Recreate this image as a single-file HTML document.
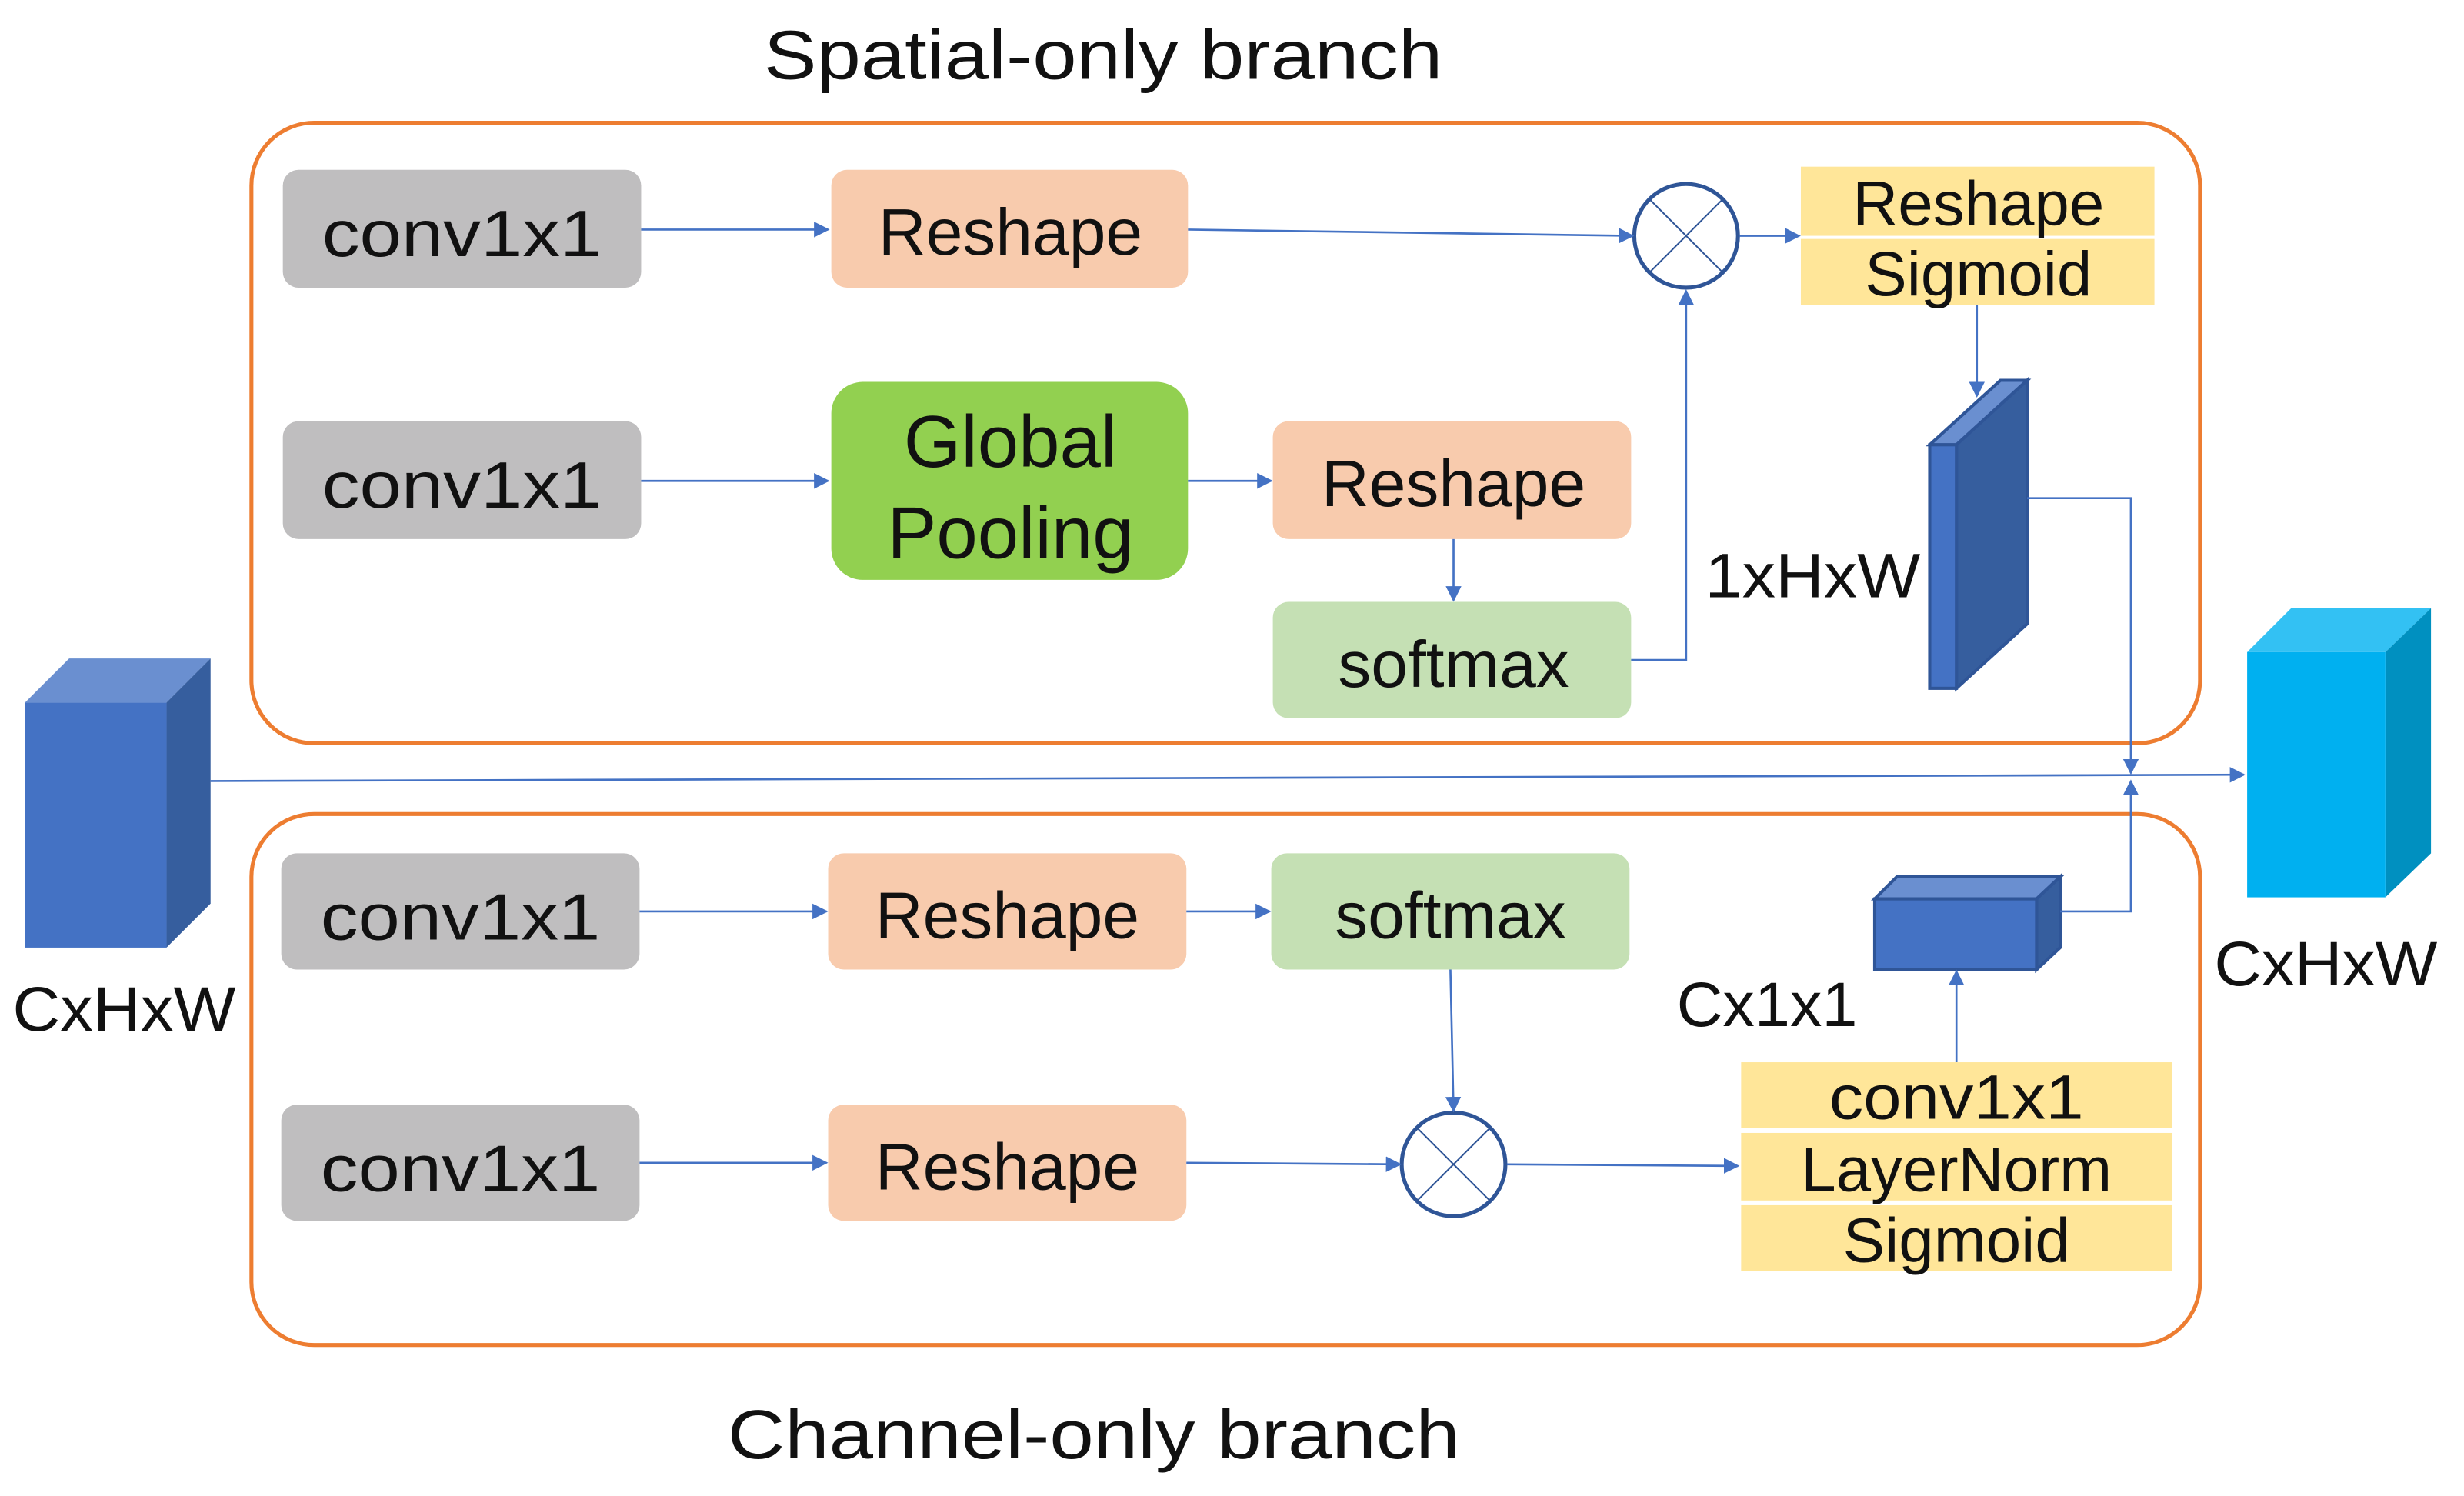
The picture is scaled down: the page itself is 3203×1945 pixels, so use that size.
<!DOCTYPE html>
<html><head><meta charset="utf-8"><style>html,body{margin:0;padding:0;background:#fff}svg{display:block}</style></head>
<body>
<svg width="3203" height="1945" viewBox="0 0 1568 952" xmlns="http://www.w3.org/2000/svg" font-family="Liberation Sans, sans-serif">
<defs><marker id="a" markerWidth="10" markerHeight="10" refX="9" refY="5" orient="auto" markerUnits="userSpaceOnUse"><path d="M0,0L10,5L0,10z" fill="#4472C4"/></marker></defs>
<text x="486" y="50" font-size="44" textLength="432" lengthAdjust="spacingAndGlyphs" fill="#111">Spatial-only branch</text>
<text x="463" y="928" font-size="44" textLength="466" lengthAdjust="spacingAndGlyphs" fill="#111">Channel-only branch</text>
<rect x="160" y="78" width="1240" height="395" rx="40" fill="none" stroke="#ED7D31" stroke-width="2.5"/>
<rect x="160" y="518" width="1240" height="338" rx="40" fill="none" stroke="#ED7D31" stroke-width="2.5"/>
<g font-size="42" text-anchor="middle" fill="#111">
<rect x="180" y="108" width="228" height="75" rx="10" fill="#BFBEBF"/><text x="294" y="163" textLength="178" lengthAdjust="spacingAndGlyphs">conv1x1</text>
<rect x="529" y="108" width="227" height="75" rx="10" fill="#F8CBAD"/><text x="643" y="162">Reshape</text>
<rect x="180" y="268" width="228" height="75" rx="10" fill="#BFBEBF"/><text x="294" y="323" textLength="178" lengthAdjust="spacingAndGlyphs">conv1x1</text>
<rect x="529" y="243" width="227" height="126" rx="20" fill="#92D050"/><text x="643" y="297" font-size="47">Global</text><text x="643" y="355" font-size="47">Pooling</text>
<rect x="810" y="268" width="228" height="75" rx="10" fill="#F8CBAD"/><text x="925" y="322">Reshape</text>
<rect x="810" y="383" width="228" height="74" rx="10" fill="#C5E0B4"/><text x="925" y="437">softmax</text>
<rect x="179" y="543" width="228" height="74" rx="10" fill="#BFBEBF"/><text x="293" y="598" textLength="178" lengthAdjust="spacingAndGlyphs">conv1x1</text>
<rect x="527" y="543" width="228" height="74" rx="10" fill="#F8CBAD"/><text x="641" y="597">Reshape</text>
<rect x="809" y="543" width="228" height="74" rx="10" fill="#C5E0B4"/><text x="923" y="597">softmax</text>
<rect x="179" y="703" width="228" height="74" rx="10" fill="#BFBEBF"/><text x="293" y="758" textLength="178" lengthAdjust="spacingAndGlyphs">conv1x1</text>
<rect x="527" y="703" width="228" height="74" rx="10" fill="#F8CBAD"/><text x="641" y="757">Reshape</text>
</g>
<g font-size="40" text-anchor="middle" fill="#111">
<rect x="1146" y="106" width="225" height="44" fill="#FFE699"/><text x="1259" y="143">Reshape</text>
<rect x="1146" y="152" width="225" height="42" fill="#FFE699"/><text x="1259" y="188">Sigmoid</text>
<rect x="1108" y="676" width="274" height="42" fill="#FFE699"/><text x="1245" y="712" textLength="162" lengthAdjust="spacingAndGlyphs">conv1x1</text>
<rect x="1108" y="721" width="274" height="43" fill="#FFE699"/><text x="1245" y="758">LayerNorm</text>
<rect x="1108" y="767" width="274" height="42" fill="#FFE699"/><text x="1245" y="803">Sigmoid</text>
</g>
<g font-size="40" fill="#111">
<text x="1085" y="380" textLength="137" lengthAdjust="spacingAndGlyphs">1xHxW</text>
<text x="1067" y="653" textLength="115" lengthAdjust="spacingAndGlyphs">Cx1x1</text>
<text x="8" y="656" textLength="142" lengthAdjust="spacingAndGlyphs">CxHxW</text>
<text x="1409" y="627" textLength="142" lengthAdjust="spacingAndGlyphs">CxHxW</text>
</g>
<g fill="#fff" stroke="#2F5597" stroke-width="2.5">
<circle cx="1073" cy="150" r="33"/><circle cx="925" cy="741" r="33"/>
</g>
<g stroke="#2F5597" stroke-width="1">
<path d="M1050,127L1096,173M1096,127L1050,173M902,718L948,764M948,718L902,764"/>
</g>
<path d="M16,447L44,419L134,419L106,447z" fill="#6A8FD0"/>
<path d="M106,447L134,419L134,575L106,603z" fill="#365E9E"/>
<rect x="16" y="447" width="90" height="156" fill="#4472C4"/>
<path d="M1430,415L1458,387L1547,387L1518,415z" fill="#33C1F3"/>
<path d="M1518,415L1547,387L1547,543L1518,571z" fill="#0090C0"/>
<rect x="1430" y="415" width="88" height="156" fill="#00B0F0"/>
<g stroke="#2F5597" stroke-width="2">
<path d="M1228,283L1273,242L1290,242L1245,283z" fill="#6A8FD0"/>
<path d="M1245,283L1290,242L1290,397L1245,438z" fill="#365E9E"/>
<rect x="1228" y="283" width="17" height="155" fill="#4472C4"/>
<path d="M1193,572L1207,558L1311,558L1296,572z" fill="#6A8FD0"/>
<path d="M1296,572L1311,558L1311,603L1296,617z" fill="#365E9E"/>
<rect x="1193" y="572" width="103" height="45" fill="#4472C4"/>
</g>
<g stroke="#4472C4" stroke-width="1.3" fill="none" marker-end="url(#a)">
<path d="M408,146L527,146"/>
<path d="M756,146L1039,150"/>
<path d="M1107,150L1145,150"/>
<path d="M408,306L527,306"/>
<path d="M756,306L809,306"/>
<path d="M925,343L925,382"/>
<path d="M1038,420L1073,420L1073,185"/>
<path d="M1258,194L1258,252"/>
<path d="M1290,317L1356,317L1356,492"/>
<path d="M134,497L1428,493"/>
<path d="M1311,580L1356,580L1356,497"/>
<path d="M1245,676L1245,618"/>
<path d="M407,580L526,580"/>
<path d="M755,580L808,580"/>
<path d="M923,617L925,707"/>
<path d="M407,740L526,740"/>
<path d="M755,740L891,741"/>
<path d="M959,741L1106,742"/>
</g>
</svg>
</body></html>
